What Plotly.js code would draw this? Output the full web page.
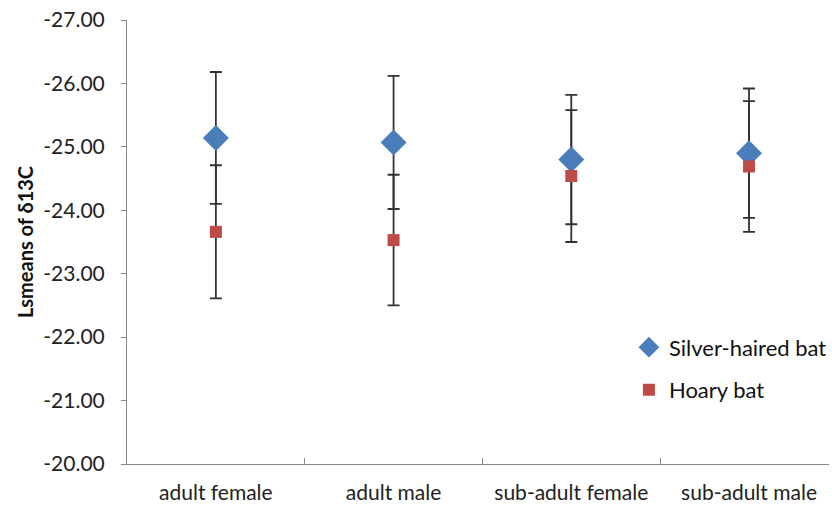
<!DOCTYPE html>
<html>
<head>
<meta charset="utf-8">
<script src="https://cdn.plot.ly/plotly-3.0.1.min.js"></script>
<style>html,body{margin:0;padding:0;background:#fff;overflow:hidden;}</style>
</head>
<body>
<div id="chart" style="width:832px;height:507px;"></div>
<script>
const categories = ['adult female', 'adult male', 'sub-adult female', 'sub-adult male'];
const silverMeans = [-25.14, -25.07, -24.80, -24.90];
const silverErr = [1.04, 1.05, 1.02, 1.02];
const hoaryMeans = [-23.66, -23.53, -24.54, -24.69];
const hoaryErr = [1.05, 1.03, 1.04, 1.03];
const yTickVals = [-27, -26, -25, -24, -23, -22, -21, -20];
const yTickText = ['-27.00', '-26.00', '-25.00', '-24.00', '-23.00', '-22.00', '-21.00', '-20.00'];

const errStyle = (arr) => ({type: 'data', array: arr, visible: true, color: '#333', thickness: 1.8, width: 6});

const traces = [
  // error bars (drawn beneath all markers)
  {x: categories, y: silverMeans, type: 'scatter', mode: 'markers', marker: {opacity: 0, size: 1},
   error_y: errStyle(silverErr), showlegend: false, hoverinfo: 'skip'},
  {x: categories, y: hoaryMeans, type: 'scatter', mode: 'markers', marker: {opacity: 0, size: 1},
   error_y: errStyle(hoaryErr), showlegend: false, hoverinfo: 'skip'},
  // markers
  {x: categories, y: silverMeans, type: 'scatter', mode: 'markers', name: 'Silver-haired bat',
   legendgroup: 's', marker: {symbol: 'diamond', size: 20, color: '#4A7EBB', line: {width: 0}}},
  {x: categories, y: hoaryMeans, type: 'scatter', mode: 'markers', name: 'Hoary bat',
   legendgroup: 'h', marker: {symbol: 'square', size: 12, color: '#BE4B48', line: {width: 0}}}
];

const axisFont = {family: 'Lato, "Open Sans", sans-serif', size: 21, color: '#222'};

const layout = {
  width: 832, height: 507,
  margin: {l: 127, r: 0, t: 20, b: 43, pad: 0},
  paper_bgcolor: '#fff', plot_bgcolor: '#fff',
  showlegend: true,
  legend: {
    x: 0.715, y: 0.31, xanchor: 'left', yanchor: 'top',
    font: {family: 'Lato, "Open Sans", sans-serif', size: 22, color: '#111'},
    traceorder: 'grouped', tracegroupgap: 11, bgcolor: 'rgba(0,0,0,0)', itemwidth: 30
  },
  xaxis: {
    type: 'category', categoryorder: 'array', categoryarray: categories,
    range: [-0.5, 3.45], tickson: 'boundaries', ticks: 'inside', ticklen: 6,
    tickcolor: '#888', tickwidth: 1, showline: true, linecolor: '#888', linewidth: 1,
    showgrid: false, zeroline: false, tickfont: {family: 'Lato, "Open Sans", sans-serif', size: 21, color: '#222'},
    ticklabelstandoff: 10, fixedrange: true
  },
  yaxis: {
    range: [-20, -27], tickvals: yTickVals, ticktext: yTickText,
    ticks: 'outside', ticklen: 5, tickcolor: '#888', tickwidth: 1,
    showline: true, linecolor: '#888', linewidth: 1, showgrid: false, zeroline: false,
    tickfont: axisFont, ticklabelstandoff: 12,
    title: {text: 'Lsmeans of δ13C', font: {family: 'Lato, "Open Sans", sans-serif', size: 20, color: '#111', weight: 'bold'}, standoff: 4},
    fixedrange: true
  }
};

Plotly.newPlot('chart', traces, layout, {displayModeBar: false, staticPlot: true});
</script>
</body>
</html>
